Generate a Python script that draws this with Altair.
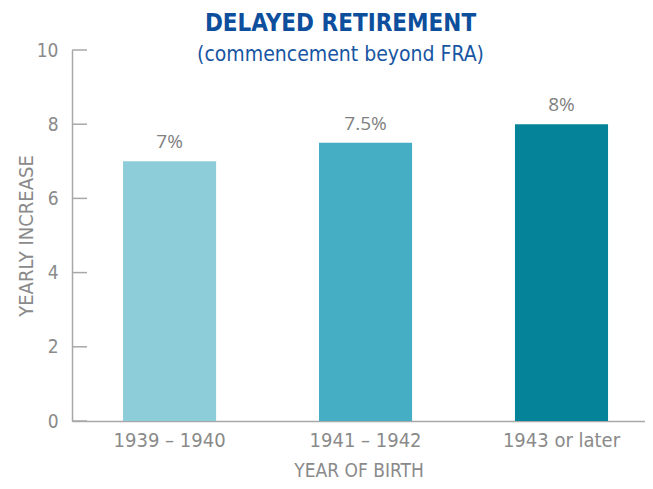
import altair as alt
import pandas as pd

categories = ["1939 – 1940", "1941 – 1942", "1943 or later"]
values = [7, 7.5, 8]
labels = ["7%", "7.5%", "8%"]
colors = ["#8ccdd9", "#45adc4", "#058499"]
y_ticks = [0, 2, 4, 6, 8, 10]

df = pd.DataFrame({"cat": categories, "val": values, "lab": labels})
ticks_df = pd.DataFrame({"t": y_ticks})

COND = "DejaVu Sans Condensed, Liberation Sans Narrow, Roboto, sans-serif"
GRAY = "#8a8a8a"

x = alt.X("cat:N", sort=categories,
          scale=alt.Scale(paddingInner=0.525, paddingOuter=0.2245, align=0.58),
          axis=alt.Axis(title="YEAR OF BIRTH", labelAngle=0, ticks=False,
                        labelFontSize=20, labelColor=GRAY, labelFont=COND,
                        labelPadding=9, titleFont=COND, titleFontSize=19,
                        titleFontWeight="normal", titleColor=GRAY, titlePadding=11,
                        domainColor="#a8a8a8", domainWidth=1.5))
y = alt.Y("val:Q", scale=alt.Scale(domain=[0, 10]),
          axis=alt.Axis(title="YEARLY INCREASE", values=y_ticks, ticks=False, grid=False,
                        labelFontSize=19, labelColor=GRAY, labelFont=COND,
                        labelPadding=14, titleFont=COND, titleFontSize=20,
                        titleFontWeight="normal", titleColor=GRAY, titlePadding=0,
                        domainColor="#a8a8a8", domainWidth=1.5))

bars = alt.Chart(df).mark_bar().encode(
    x=x, y=y,
    color=alt.Color("cat:N", sort=categories,
                    scale=alt.Scale(domain=categories, range=colors), legend=None),
)
text = alt.Chart(df).mark_text(dy=-19, fontSize=19, color="#7f7f7f",
                               font="Open Sans, sans-serif").encode(
    x=alt.X("cat:N", sort=categories), y="val:Q", text="lab:N")

ticks = alt.Chart(ticks_df).mark_rule(color="#a8a8a8", strokeWidth=1.5).encode(
    y=alt.Y("t:Q"), x=alt.value(0), x2=alt.value(15))

chart = alt.layer(bars, text, ticks).properties(
    width=573, height=371,
    autosize=alt.AutoSizeParams(type="none"),
    padding={"left": 64, "top": 42, "right": 0, "bottom": 60},
    title=alt.TitleParams(
        "DELAYED RETIREMENT",
        subtitle="(commencement beyond FRA)",
        font=COND, fontSize=24, fontWeight="bold", color="#0d4f9c",
        subtitleFont=COND, subtitleFontSize=21, subtitleColor="#1856a3",
        subtitlePadding=8, anchor="middle", dx=-18, offset=-24,
    ),
).configure_view(stroke=None)

chart.save("out.html", embed_options={"renderer": "svg", "actions": False})
